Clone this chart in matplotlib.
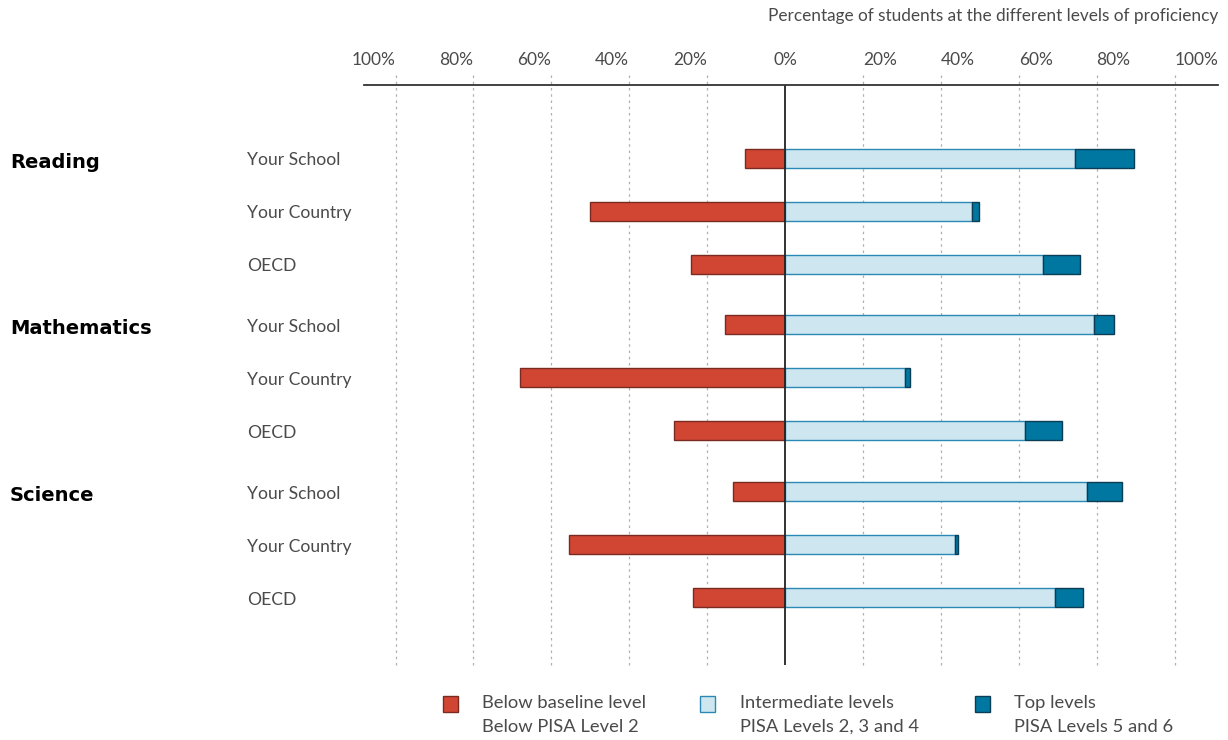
import matplotlib.pyplot as plt

subjects = ["Reading", "Mathematics", "Science"]
groups = ["Your School", "Your Country", "OECD"]

# percentages, one entry per row (subject x group)
below = [10.3, 50.1, 24.2, 15.4, 68.1, 28.5, 13.4, 55.5, 23.7]
intermediate = [74.5, 48.1, 66.3, 79.4, 30.8, 61.7, 77.6, 43.7, 69.2]
top = [15.2, 1.8, 9.5, 5.1, 1.3, 9.5, 9.0, 0.8, 7.2]

ticks = [-100, -80, -60, -40, -20, 0, 20, 40, 60, 80, 100]
tick_labels = ["100%", "80%", "60%", "40%", "20%", "0%", "20%", "40%", "60%", "80%", "100%"]

legend_titles = ["Below baseline level", "Intermediate levels", "Top levels"]
legend_subs = ["Below PISA Level 2", "PISA Levels 2, 3 and 4", "PISA Levels 5 and 6"]

red, red_edge = "#d04632", "#7a2a20"
light, light_edge = "#cde6f0", "#2a8ab5"
dark, dark_edge = "#0077a0", "#0b3d55"
txt = "#4a4a4a"

plt.rcParams['font.family'] = ['Lato', 'DejaVu Sans']

W, H = 1228, 740
fig = plt.figure(figsize=(W / 100, H / 100), dpi=100)
ax = fig.add_axes([364 / W, 1 - 665 / H, (1218 - 364) / W, (665 - 85) / H])

pxper = (1174 - 395) / 200.0
ax.set_xlim((364 - 785) / pxper, (1218 - 785) / pxper)
row_px = 53.0
ax.set_ylim((665 - 158) / row_px, (85 - 158) / row_px)
ax.axis("off")

ypos = []
for g in range(len(subjects)):
    for i in range(len(groups)):
        ypos.append(g * 3 + i + g * 0.15)

h = 19 / row_px
ax.barh(ypos, [-b for b in below], height=h, color=red, edgecolor=red_edge, linewidth=1, zorder=3)
ax.barh(ypos, intermediate, height=h, color=light, edgecolor=light_edge, linewidth=1, zorder=3)
ax.barh(ypos, top, left=intermediate, height=h, color=dark, edgecolor=dark_edge, linewidth=1, zorder=3)

y_top_grid = (75 - 158) / row_px
y_bot = (665 - 158) / row_px
for t in ticks:
    if t == 0:
        continue
    ax.plot([t, t], [y_top_grid, y_bot], color="#b0b0b0", lw=0.9, ls=(0, (2, 3)), clip_on=False, zorder=1)
ax.plot([0, 0], [(85 - 158) / row_px, y_bot], color="#222222", lw=1.3, zorder=4)
ax.axhline((85 - 158) / row_px, color="#333333", lw=1.3, clip_on=False, zorder=4)

y_lab = (60 - 158) / row_px
for t, lab in zip(ticks, tick_labels):
    ha = "right" if t < 0 else ("left" if t > 0 else "center")
    ax.text(t, y_lab, lab, ha=ha, va="center", fontsize=12.5, color=txt, clip_on=False)

fig.text(1218 / W, 1 - 16 / H, "Percentage of students at the different levels of proficiency",
         ha="right", va="center", fontsize=12.4, color=txt)

for k, y in enumerate(ypos):
    yy = 1 - (160 + y * row_px) / H
    fig.text(247 / W, yy, groups[k % 3], ha="left", va="center", fontsize=12.6, color=txt)
    if k % 3 == 0:
        fig.text(10 / W, yy - 2 / H, subjects[k // 3], ha="left", va="center", fontsize=14,
                 family="DejaVu Sans", fontweight="bold", color="black")

sq_x = [443, 700, 975]
tx_x = [482, 740, 1014]
faces = [(red, red_edge), (light, light_edge), (dark, dark_edge)]
for k in range(3):
    fig.patches.append(plt.Rectangle((sq_x[k] / W, 1 - 712 / H), 15 / W, 16 / H, transform=fig.transFigure,
                                     facecolor=faces[k][0], edgecolor=faces[k][1], lw=1))
    fig.text(tx_x[k] / W, 1 - 703 / H, legend_titles[k], ha="left", va="center", fontsize=13.2, color=txt)
    fig.text(tx_x[k] / W, 1 - 727 / H, legend_subs[k], ha="left", va="center", fontsize=13.2, color=txt)

fig.savefig("out.png", dpi=100)
